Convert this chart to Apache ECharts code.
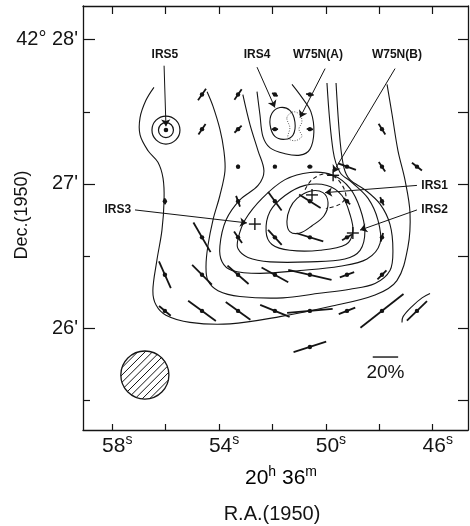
<!DOCTYPE html>
<html><head><meta charset="utf-8">
<script src="https://cdn.jsdelivr.net/npm/echarts@6/dist/echarts.min.js"></script>
<style>html,body{margin:0;padding:0;background:#fff}#c{width:470px;height:526px}</style>
</head><body><div id="c"></div>
<script>
// ---- axes (R.A. seconds of 20h36m, Dec arcmin of 42deg) ----
const raRange = [44.678, 59.097];
const decRange = [25.294, 28.234];
const raTicks = [46, 48, 50, 52, 54, 56, 58];
const raLabelValues = [46, 50, 54, 58];
const decMajorTicks = [26, 27, 28];
const decMinorTicks = [25.5, 26.5, 27.5];
const decTickLabels = ["26'", "27'", "42° 28'"];

// ---- polarization vectors: [RA s, Dec ', P %, PA deg] ----
const vectors = [
  [54.64,27.62,11,145],[53.29,27.62,10,145],[51.91,27.62,5,60],[50.60,27.62,6,80],
  [54.64,27.38,10,146],[53.29,27.38,8,135],[51.91,27.38,5,90],[50.60,27.38,5,85],[47.90,27.38,10,32],
  [53.29,27.12,3,5],[51.91,27.12,2,0],[50.60,27.12,4,90],[49.21,27.12,15,70],[47.90,27.12,9,34],[46.59,27.12,10,52],
  [56.03,26.88,5,5],[53.29,26.88,9,20],[51.91,26.88,18,36],[50.60,26.88,20,58],[49.21,26.88,7,45],[47.90,26.88,7,24],
  [54.64,26.63,27,30],[53.29,26.63,11,35],[51.91,26.63,16,42],[50.60,26.63,22,73],[49.21,26.63,9,120],[47.90,26.63,7,165],
  [56.03,26.37,23,24],[54.64,26.37,22,45],[53.29,26.37,22,49],[51.91,26.37,24,61],[50.60,26.37,35,77],[49.21,26.37,12,110],[47.90,26.37,10,135],
  [56.03,26.12,12,50],[54.64,26.12,27,54],[53.29,26.12,24,54],[51.91,26.12,25,68],[50.60,26.12,36,95],[49.21,26.12,14,112],[47.90,26.12,43,128],[46.59,26.12,22,134],
  [50.60,25.87,27,108]
];

// ---- contours [RA, Dec] ----
const contour1 = [[56.44,27.67],[56.74,27.58],[56.96,27.46],[56.96,27.34],[56.66,27.23],[56.29,27.15],[56.10,27.04],[56.06,26.89],[56.14,26.68],[56.33,26.47],[56.48,26.26],[56.36,26.16],[55.99,26.09],[55.09,26.04],[53.59,26.03],[51.72,26.08],[49.85,26.15],[48.16,26.23],[47.34,26.33],[46.93,26.56],[46.85,26.80],[47.04,27.03],[47.30,27.23],[47.52,27.48],[47.71,27.69]];
const contour2 = [[54.45,27.64],[54.23,27.54],[53.97,27.38],[53.82,27.23],[53.78,27.09],[53.97,26.92],[54.23,26.75],[54.42,26.57],[54.49,26.43],[54.42,26.33],[54.04,26.26],[53.22,26.22],[51.61,26.21],[50.33,26.24],[49.10,26.27],[48.16,26.31],[47.60,26.40],[47.49,26.54],[47.60,26.72],[47.97,26.86],[48.54,26.96],[49.10,27.03],[49.32,27.11],[49.47,27.30],[49.62,27.70]];
const contour3 = [[53.11,27.62],[52.84,27.41],[52.54,27.23],[52.32,27.09],[52.54,26.99],[53.22,26.89],[53.74,26.75],[53.97,26.57],[53.89,26.46],[53.52,26.40],[52.47,26.38],[50.97,26.40],[49.47,26.43],[48.46,26.48],[47.97,26.59],[48.05,26.75],[48.42,26.90],[49.02,27.01],[49.47,27.08],[49.73,27.23],[49.96,27.70]];
const contour4 = [[53.29,26.62],[53.03,26.75],[52.39,26.90],[51.53,27.03],[50.60,27.08],[49.73,27.06],[49.10,26.97],[48.72,26.83],[48.54,26.67],[48.72,26.54],[49.29,26.48],[50.60,26.46],[52.09,26.46],[52.92,26.49],[53.29,26.55]];
const contour5 = [[52.24,26.67],[52.09,26.81],[51.53,26.92],[50.78,26.99],[49.96,26.99],[49.40,26.92],[49.10,26.79],[48.99,26.67],[49.25,26.58],[50.22,26.54],[51.35,26.54],[52.02,26.58]];
const contour6 = [[51.46,26.74],[51.35,26.83],[51.08,26.90],[50.60,26.95],[50.11,26.94],[49.92,26.87],[50.07,26.78],[50.52,26.71],[50.97,26.66],[51.35,26.67]];
const contourDashed = [[50.78,26.96],[50.52,27.03],[50.03,27.07],[49.55,27.03],[49.25,26.92],[49.47,26.86],[50.00,26.83]];
const contourIRS4Outer = [[52.58,27.64],[52.47,27.48],[52.36,27.33],[52.09,27.25],[51.53,27.21],[50.97,27.20],[50.60,27.24],[50.45,27.36],[50.56,27.50],[50.90,27.60],[51.27,27.69]];
const contourIRS4Inner = [[52.09,27.41],[52.02,27.49],[51.72,27.53],[51.35,27.51],[51.16,27.43],[51.23,27.34],[51.53,27.31],[51.91,27.33]];
const contourW75NA = [[51.46,27.46],[51.23,27.50],[50.97,27.48],[50.90,27.43],[51.01,27.38],[50.90,27.33],[51.16,27.30],[51.42,27.32],[51.35,27.39]];
const contourArc = [[47.15,26.04],[47.11,26.08],[46.78,26.15],[46.40,26.21],[46.10,26.24]];

// ---- sources ----
const irs5Pos = [55.99, 27.374];
const crossPositions = [[50.52,26.924],[48.99,26.660],[52.66,26.722],[49.73,27.06]];
const labelNames = ['IRS5','IRS4','W75N(A)','W75N(B)','IRS1','IRS2','IRS3'];
const labelPositions = [[56.03,27.894],[52.58,27.894],[50.30,27.894],[47.34,27.894],[46.50,26.99],[46.50,26.82],[57.22,26.82]];
const labelAligns = ['center','center','center','center','left','left','right'];
const pointerStarts = [[56.06,27.82],[52.58,27.81],[50.03,27.80],[47.41,27.80],[46.59,26.99],[46.59,26.82],[57.15,26.82]];
const pointerEnds = [[55.99,27.40],[51.91,27.53],[50.97,27.46],[49.73,27.08],[50.03,26.94],[48.72,26.68],[52.96,26.73]];

// ---- beam & scale ----
const beam = [56.78, 25.675, 20];        // RA, Dec, diameter (arcsec)
const scaleBar = [47.77, 25.80, 20];     // RA, Dec, percent

const INK = '#141414';
const FONT = '"Liberation Sans", Arial, Helvetica, sans-serif';
const PX_PER_PCT = 1.27;

const chart = echarts.init(document.getElementById('c'), null, {renderer: 'canvas'});

function contourSeries(pts, closed, dash, width) {
  return {
    type: 'custom', coordinateSystem: 'cartesian2d', data: pts, silent: true, animation: false, z: 2,
    renderItem: (p, api) => p.dataIndex !== 0 ? null : {
      type: closed ? 'polygon' : 'polyline',
      shape: {points: pts.map(q => api.coord(q)), smooth: 0.35},
      style: {fill: 'none', stroke: INK, lineWidth: width || 1.1, lineDash: dash || null}
    }
  };
}

const series = [
  contourSeries(contour1, false),
  contourSeries(contour2, false),
  contourSeries(contour3, false),
  contourSeries(contour4, true),
  contourSeries(contour5, true),
  contourSeries(contour6, true),
  contourSeries(contourDashed, false, [4, 3]),
  contourSeries(contourIRS4Outer, false),
  contourSeries(contourIRS4Inner, true),
  contourSeries(contourW75NA, true, [1, 1.5], 0.7),
  contourSeries(contourArc, false),
  {
    type: 'custom', coordinateSystem: 'cartesian2d', data: vectors, silent: true, animation: false, z: 3,
    renderItem: (p, api) => {
      const c = api.coord([api.value(0), api.value(1)]);
      const L = api.value(2) * PX_PER_PCT / 2;
      const a = api.value(3) * Math.PI / 180;
      const dx = -Math.sin(a) * L, dy = -Math.cos(a) * L;
      return {type: 'group', children: [
        {type: 'line', shape: {x1: c[0] - dx, y1: c[1] - dy, x2: c[0] + dx, y2: c[1] + dy}, style: {stroke: INK, lineWidth: 1.8}},
        {type: 'circle', shape: {cx: c[0], cy: c[1], r: 2.2}, style: {fill: INK}}
      ]};
    }
  },
  {
    type: 'custom', coordinateSystem: 'cartesian2d', data: [irs5Pos], silent: true, animation: false, z: 3,
    renderItem: (p, api) => {
      const c = api.coord([api.value(0), api.value(1)]);
      return {type: 'group', children: [
        {type: 'circle', shape: {cx: c[0], cy: c[1], r: 14}, style: {fill: 'none', stroke: INK, lineWidth: 1.2}},
        {type: 'circle', shape: {cx: c[0], cy: c[1], r: 7.5}, style: {fill: 'none', stroke: INK, lineWidth: 1.2}},
        {type: 'circle', shape: {cx: c[0], cy: c[1], r: 2.3}, style: {fill: INK}}
      ]};
    }
  },
  {
    type: 'custom', coordinateSystem: 'cartesian2d', data: crossPositions, silent: true, animation: false, z: 4,
    renderItem: (p, api) => {
      const c = api.coord([api.value(0), api.value(1)]);
      const s = 6;
      return {type: 'group', children: [
        {type: 'line', shape: {x1: c[0] - s, y1: c[1], x2: c[0] + s, y2: c[1]}, style: {stroke: INK, lineWidth: 1.4}},
        {type: 'line', shape: {x1: c[0], y1: c[1] - s, x2: c[0], y2: c[1] + s}, style: {stroke: INK, lineWidth: 1.4}}
      ]};
    }
  },
  {
    type: 'lines', coordinateSystem: 'cartesian2d', silent: true, animation: false, z: 4,
    symbol: ['none', 'arrow'], symbolSize: 7,
    lineStyle: {color: INK, width: 1, opacity: 1},
    data: pointerStarts.map((s, i) => ({coords: [s, pointerEnds[i]]}))
  },
  {
    type: 'custom', coordinateSystem: 'cartesian2d', data: labelPositions, silent: true, animation: false, z: 5,
    renderItem: (p, api) => {
      const c = api.coord([api.value(0), api.value(1)]);
      const al = labelAligns[p.dataIndex];
      return {type: 'text', x: c[0] + (al === 'left' ? 2 : al === 'right' ? -2 : 0), y: c[1],
        style: {text: labelNames[p.dataIndex], align: al, verticalAlign: 'middle', font: 'bold 12px ' + FONT, fill: INK}};
    }
  },
  {
    type: 'custom', coordinateSystem: 'cartesian2d', data: [beam], silent: true, animation: false, z: 3,
    renderItem: (p, api) => {
      const c = api.coord([api.value(0), api.value(1)]);
      const r = api.size([0, api.value(2) / 60])[1] / 2;
      const kids = [{type: 'circle', shape: {cx: c[0], cy: c[1], r: r}, style: {fill: '#fff', stroke: INK, lineWidth: 1.3}}];
      const sp = 5.2, k = Math.SQRT1_2;
      for (let d = -r + sp / 2; d < r; d += sp) {
        const h = Math.sqrt(Math.max(r * r - d * d, 0));
        const bx = c[0] + d * k, by = c[1] + d * k;
        kids.push({type: 'line', shape: {x1: bx - h * k, y1: by + h * k, x2: bx + h * k, y2: by - h * k}, style: {stroke: INK, lineWidth: 1}});
      }
      return {type: 'group', children: kids};
    }
  },
  {
    type: 'custom', coordinateSystem: 'cartesian2d', data: [scaleBar], silent: true, animation: false, z: 3,
    renderItem: (p, api) => {
      const c = api.coord([api.value(0), api.value(1)]);
      const L = api.value(2) * PX_PER_PCT / 2;
      return {type: 'group', children: [
        {type: 'line', shape: {x1: c[0] - L, y1: c[1], x2: c[0] + L, y2: c[1]}, style: {stroke: INK, lineWidth: 1.4}},
        {type: 'text', x: c[0], y: c[1] + 16, style: {text: api.value(2) + '%', align: 'center', verticalAlign: 'middle', font: '19px ' + FONT, fill: INK}}
      ]};
    }
  }
];

const lineStyle = {color: INK, width: 1.3};
const supRich = {
  n: {fontSize: 21, fontFamily: FONT, color: INK, lineHeight: 26},
  s: {fontSize: 14, fontFamily: FONT, color: INK, lineHeight: 14, verticalAlign: 'top'}
};

chart.setOption({
  animation: false,
  backgroundColor: '#fff',
  grid: {left: 83, right: 2, top: 6, bottom: 96, containLabel: false},
  xAxis: [
    {type: 'value', position: 'bottom', inverse: true, min: raRange[0], max: raRange[1],
      axisLine: {show: true, onZero: false, lineStyle: lineStyle},
      axisTick: {show: true, inside: true, length: 6, customValues: raTicks, lineStyle: {color: INK, width: 1.2}},
      axisLabel: {show: true, customValues: raLabelValues, margin: 3, padding: [0, 0, 0, 10],
        formatter: v => '{n|' + v + '}{s|s}', rich: supRich},
      splitLine: {show: false}},
    {type: 'value', position: 'top', inverse: true, min: raRange[0], max: raRange[1],
      axisLine: {show: true, onZero: false, lineStyle: lineStyle},
      axisTick: {show: true, inside: true, length: 8, customValues: raTicks, lineStyle: {color: INK, width: 1.2}},
      axisLabel: {show: false}, splitLine: {show: false}}
  ],
  yAxis: [
    {type: 'value', position: 'left', min: decRange[0], max: decRange[1],
      axisLine: {show: true, onZero: false, lineStyle: lineStyle},
      axisTick: {show: true, inside: true, length: 12, customValues: decMajorTicks, lineStyle: {color: INK, width: 1.2}},
      axisLabel: {show: true, customValues: decMajorTicks, margin: 5,
        formatter: v => decTickLabels[decMajorTicks.indexOf(Math.round(v))],
        fontSize: 20, fontFamily: FONT, color: INK},
      splitLine: {show: false}},
    {type: 'value', position: 'left', min: decRange[0], max: decRange[1],
      axisLine: {show: false},
      axisTick: {show: true, inside: true, length: 7, customValues: decMinorTicks, lineStyle: {color: INK, width: 1.2}},
      axisLabel: {show: false}, splitLine: {show: false}},
    {type: 'value', position: 'right', min: decRange[0], max: decRange[1],
      axisLine: {show: true, onZero: false, lineStyle: lineStyle},
      axisTick: {show: true, inside: true, length: 10, customValues: decMinorTicks.concat(decMajorTicks), lineStyle: {color: INK, width: 1.2}},
      axisLabel: {show: false}, splitLine: {show: false}}
  ],
  graphic: [
    {type: 'text', x: 281, y: 478, style: {text: '{n|20}{s|h}{n| 36}{s|m}', rich: supRich, align: 'center', verticalAlign: 'middle'}},
    {type: 'text', x: 272, y: 514, style: {text: 'R.A.(1950)', font: '20px ' + FONT, fill: INK, align: 'center', verticalAlign: 'middle'}},
    {type: 'text', x: 22, y: 215, rotation: Math.PI / 2, style: {text: 'Dec.(1950)', font: '18px ' + FONT, fill: INK, align: 'center', verticalAlign: 'middle'}}
  ],
  series: series
});
</script>
</body></html>
